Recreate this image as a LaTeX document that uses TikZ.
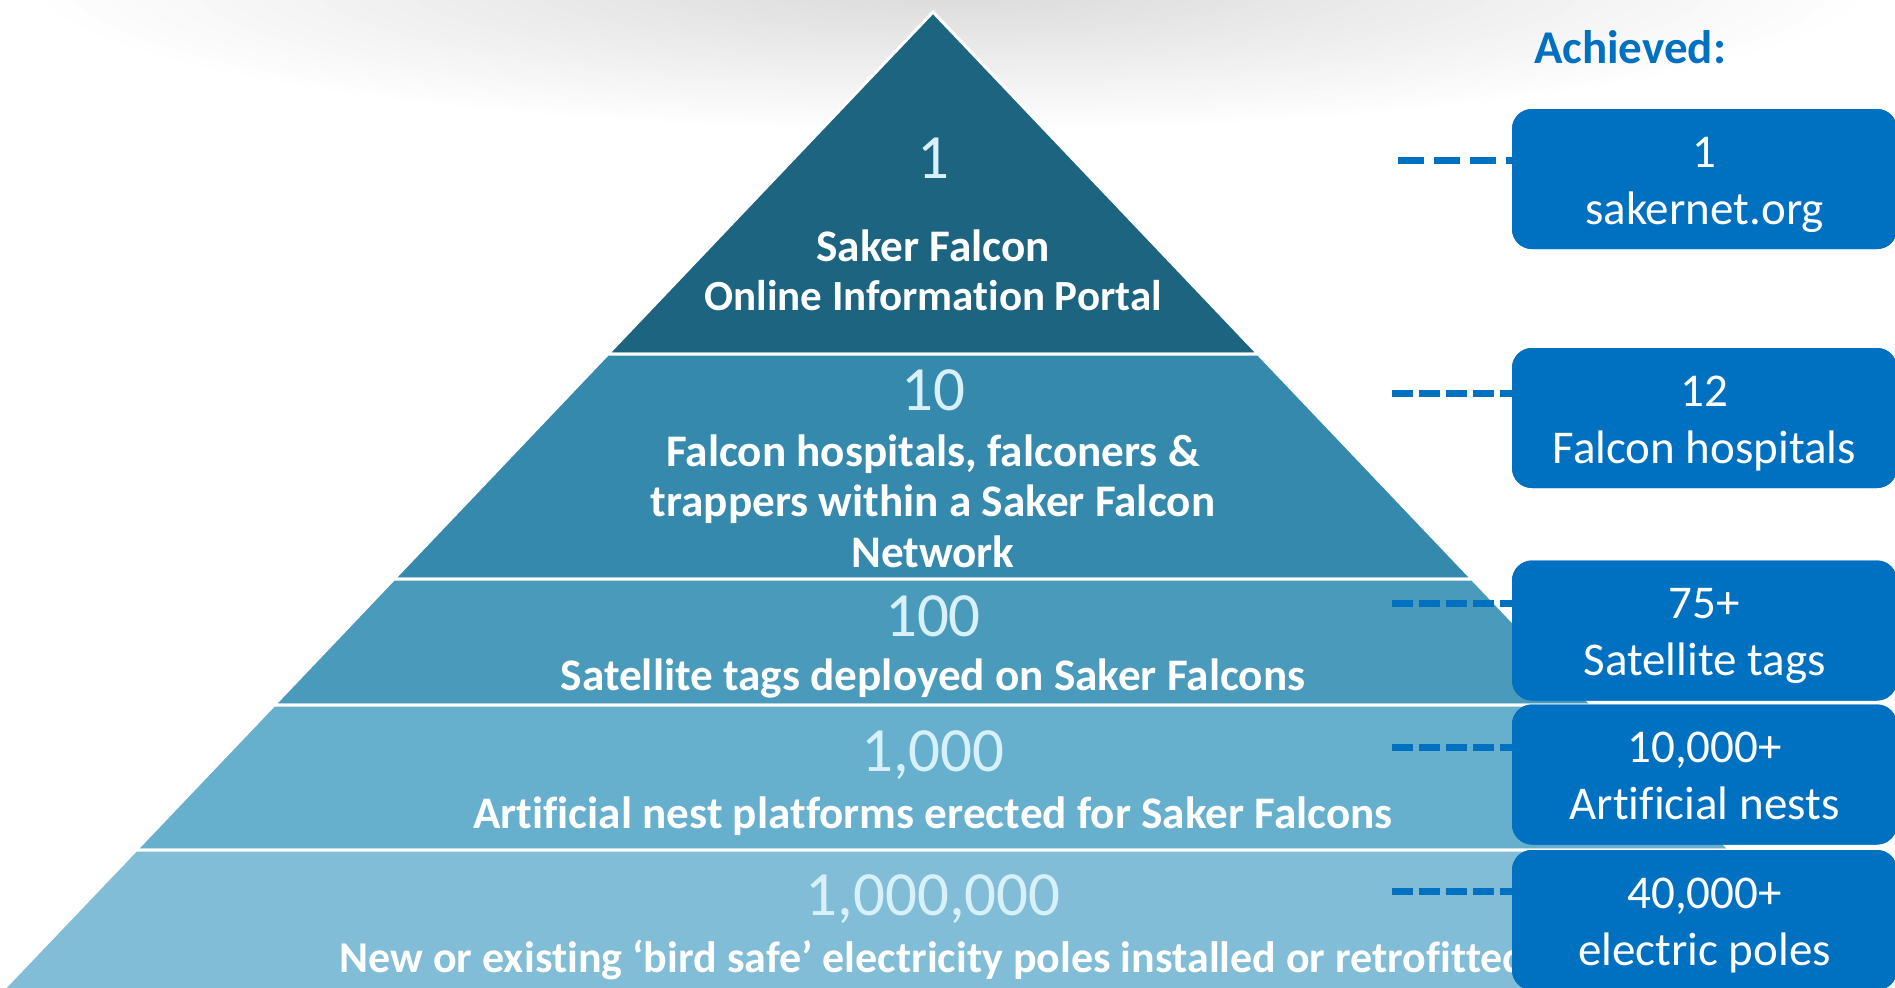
\documentclass[tikz,border=0pt]{standalone}
\usepackage{fontspec}
\setmainfont{Carlito}[Ligatures={TeX,NoCommon}]
\usepackage{tikz}
\usetikzlibrary{positioning}
\definecolor{tierA}{HTML}{1C6480}
\definecolor{tierB}{HTML}{3589AD}
\definecolor{tierC}{HTML}{4A9BBB}
\definecolor{tierD}{HTML}{66B0CE}
\definecolor{tierE}{HTML}{81BDD6}
\definecolor{achblue}{HTML}{0070C0}
\definecolor{numcol}{HTML}{D7F0FA}
\newcommand{\boxstrut}{\rule[-5pt]{0pt}{26.5pt}}
\tikzstyle{tier}=[draw=white,line width=1.5pt]
\tikzstyle{number}=[text=numcol,font=\fontsize{31.5}{36}\selectfont,anchor=base,inner sep=0pt]
\tikzstyle{tiertext}=[text=white,font=\bfseries\fontsize{22.6}{25}\selectfont,anchor=base,inner sep=0pt]
\tikzstyle{achbox}=[fill=achblue,rounded corners=10pt,minimum width=192.5pt,minimum height=70pt,inner sep=0pt,text=white,align=center,font=\fontsize{23.5}{28.5}\selectfont]
\tikzstyle{dashlink}=[achblue,line width=3.5pt,dash pattern=on 10.5pt off 3pt]

\begin{document}
\begin{tikzpicture}[x=0.5pt,y=-0.5pt]
\path[use as bounding box,clip] (0,0) rectangle (1895,987);
% grey glow behind the apex
\foreach \k [evaluate=\k as \g using \k/2] in {1,...,30}
  \fill[black!\g] (951,-20) ellipse [x radius={30.5*(31-\k)},y radius={5*(31-\k)}];

% pyramid
\filldraw[tier,fill=tierA] (933,12) -- (1258.2,354) -- (607.8,354) -- cycle;
\filldraw[tier,fill=tierB] (607.8,354) -- (1258.2,354) -- (1472.2,579) -- (393.8,579) -- cycle;
\filldraw[tier,fill=tierC] (393.8,579) -- (1472.2,579) -- (1592,705) -- (274,705) -- cycle;
\filldraw[tier,fill=tierD] (274,705) -- (1592,705) -- (1730,850) -- (136,850) -- cycle;
\filldraw[tier,fill=tierE] (136,850) -- (1730,850) -- (1873,1000) -- (-7,1000) -- cycle;

\node[number] (num1) at (933,178) {1};
\node[tiertext] (txt1a) at (933,261) {Saker Falcon};
\node[tiertext,font=\bfseries\fontsize{21.5}{25}\selectfont] (txt1b) at (933,310) {Online Information Portal};
\node[number] (num2) at (933,410) {10};
\node[tiertext] (txt2a) at (933,466) {Falcon hospitals, falconers \&};
\node[tiertext] (txt2b) at (933,516) {trappers within a Saker Falcon};
\node[tiertext] (txt2c) at (933,567) {Network};
\node[number] (num3) at (933,636) {100};
\node[tiertext] (txt3) at (933,690) {Satellite tags deployed on Saker Falcons};
\node[number] (num4) at (933,771) {1,000};
\node[tiertext] (txt4) at (933,828) {Artificial nest platforms erected for Saker Falcons};
\node[number] (num5) at (933,915) {1,000,000};
\node[tiertext,font=\bfseries\fontsize{22}{25}\selectfont] (txt5) at (933,972) {New or existing ‘bird safe’ electricity poles installed or retrofitted};

% achieved column
\node[text=achblue,font=\bfseries\fontsize{23.5}{28}\selectfont,anchor=base,inner sep=0pt] (achieved) at (1630,63) {Achieved:};

\coordinate (d1) at (1398,160);
\coordinate (d2) at (1392,393);
\coordinate (d3) at (1392,603);
\coordinate (d4) at (1392,747);
\coordinate (d5) at (1392,891);

\node[achbox] (ach1) at (1704.5,179) {};
\node[achbox] (ach2) at (1704.5,418) {};
\node[achbox] (ach3) at (1704.5,630.5) {};
\node[achbox] (ach4) at (1704.5,774.5) {};
\node[achbox] (ach5) at (1704.5,920) {};

\draw[dashlink,dash pattern=on 13pt off 5pt] (d1) -- (d1 -| ach1.west);
\draw[dashlink] (d2) -- (d2 -| ach2.west);
\draw[dashlink] (d3) -- (d3 -| ach3.west);
\draw[dashlink] (d4) -- (d4 -| ach4.west);
\draw[dashlink] (d5) -- (d5 -| ach5.west);

\node[achbox] (ach1txt) at (ach1) {\boxstrut1\\\boxstrut sakernet.org};
\node[achbox] (ach2txt) at (ach2) {\boxstrut12\\\boxstrut Falcon hospitals};
\node[achbox] (ach3txt) at (ach3) {\boxstrut75+\\\boxstrut Satellite tags};
\node[achbox] (ach4txt) at (ach4) {\boxstrut10,000+\\\boxstrut Artificial nests};
\node[achbox] (ach5txt) at (ach5) {\boxstrut40,000+\\\boxstrut electric poles};
\end{tikzpicture}
\end{document}
